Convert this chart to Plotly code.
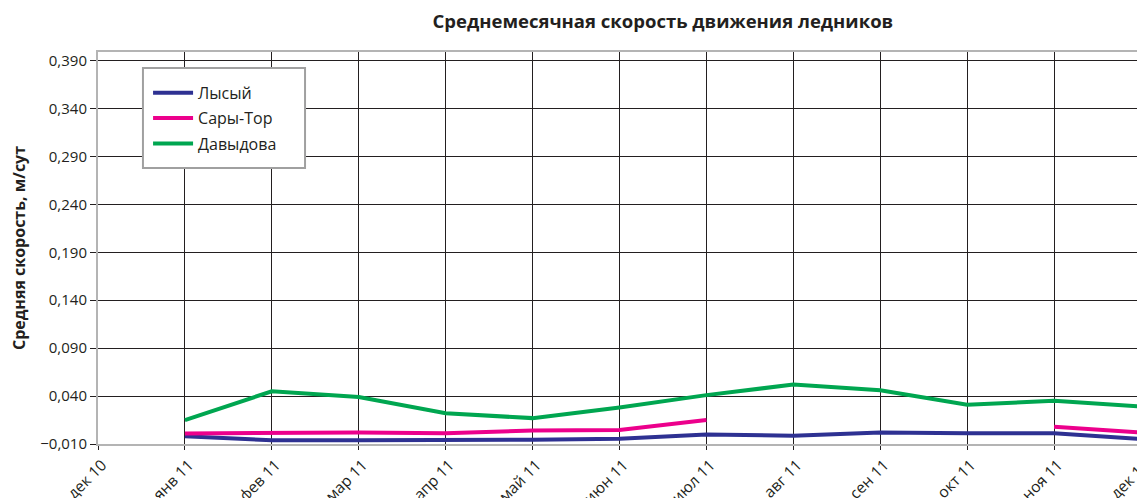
import plotly.graph_objects as go

# months on the x axis (дек 10 has no data)
months = ["дек 10", "янв 11", "фев 11", "мар 11", "апр 11", "май 11", "июн 11",
          "июл 11", "авг 11", "сен 11", "окт 11", "ноя 11", "дек 11"]

# mean monthly glacier speed, m/day
lysyi = [None, -0.002, -0.006, -0.006, -0.006, -0.0055, -0.0045,
         0.0, -0.0015, 0.002, 0.0013, 0.0013, -0.0047]
sary_tor = [None, 0.001, 0.002, 0.002, 0.0012, 0.004, 0.0045,
            0.015, None, None, None, 0.008, 0.002]
davydova = [None, 0.015, 0.045, 0.039, 0.022, 0.017, 0.028,
            0.041, 0.052, 0.046, 0.031, 0.035, 0.029]

y_ticks = [-0.01, 0.04, 0.09, 0.14, 0.19, 0.24, 0.29, 0.34, 0.39]

font = "Open Sans"

fig = go.Figure()
series = [("Лысый", lysyi, "#2e3192"),
          ("Сары-Тор", sary_tor, "#ec008c"),
          ("Давыдова", davydova, "#00a650")]
for name, vals, col in series:
    fig.add_trace(go.Scatter(x=months, y=vals, name=name, mode="lines",
                             legendgroup=name,
                             line=dict(color=col, width=4), connectgaps=False))

# legend frame drawn as a shape so it can be padded like the original
fig.add_shape(type="rect", xref="x domain", yref="y domain",
              x0=0.0431, x1=0.1985, y0=0.704, y1=0.959,
              fillcolor="white", line=dict(color="#a0a0a0", width=2),
              layer="above")

# page body has an 8px margin, so the figure is 8px smaller than the window
fig.update_layout(
    width=1137, height=490,
    margin=dict(l=90, r=4, t=44, b=54),
    paper_bgcolor="white", plot_bgcolor="white",
    font=dict(family=font, size=15, color="#231f20"),
    separators=", ",
    title=dict(text="<b>Среднемесячная скорость движения ледников</b>",
               x=0.576, xanchor="center", y=0.972, yanchor="middle",
               font=dict(size=18.5, family=font, color="#231f20")),
    legend=dict(x=0.048, y=0.939, xanchor="left", yanchor="top",
                bgcolor="rgba(0,0,0,0)", borderwidth=0,
                font=dict(size=16), itemwidth=40, tracegroupgap=1.5),
    showlegend=True,
)

fig.update_xaxes(
    type="category", range=[0, 12], automargin=False,
    showgrid=True, gridcolor="#231f20", gridwidth=1,
    showline=True, linecolor="#b4b4b4", linewidth=2, mirror=True,
    ticks="outside", ticklen=4, tickcolor="#231f20",
    tickangle=-45, tickfont=dict(size=15.5), ticklabelshift=4,
)
fig.update_yaxes(
    range=[-0.01, 0.399], tickvals=y_ticks, tickformat=".3f", automargin=False,
    showgrid=True, gridcolor="#231f20", gridwidth=1, zeroline=False,
    showline=True, linecolor="#b4b4b4", linewidth=2, mirror=True,
    ticks="outside", ticklen=6, tickcolor="#231f20",
    title=dict(text="<b>Средняя скорость, м/сут</b>", standoff=14,
               font=dict(size=16)),
)

fig.write_html("out.html")
